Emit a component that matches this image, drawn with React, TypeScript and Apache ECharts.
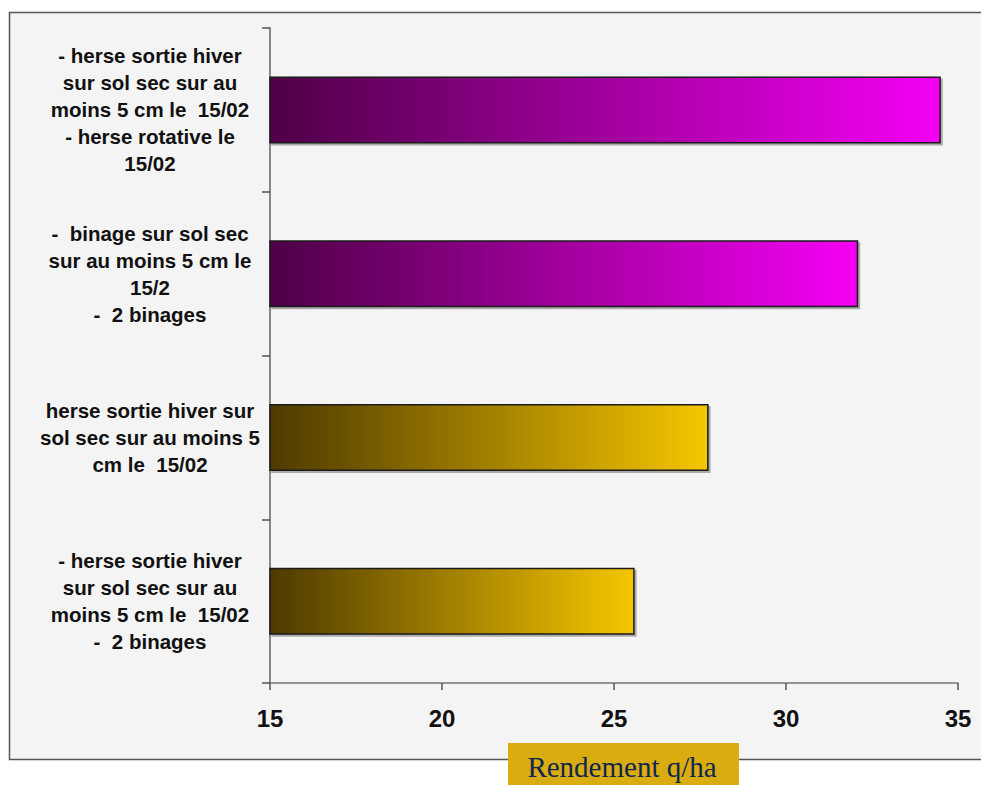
import React, { useEffect, useRef } from "react";
import * as echarts from "echarts";

const categories = [
  "- herse sortie hiver\nsur sol sec sur au\nmoins 5 cm le  15/02\n- herse rotative le\n15/02",
  "-  binage sur sol sec\nsur au moins 5 cm le\n15/2\n-  2 binages",
  "herse sortie hiver sur\nsol sec sur au moins 5\ncm le  15/02",
  "- herse sortie hiver\nsur sol sec sur au\nmoins 5 cm le  15/02\n-  2 binages",
];
const values = [34.5, 32.1, 27.75, 25.6];
const colorGroups = ["pink", "pink", "gold", "gold"];
const xTicks = [15, 20, 25, 30, 35];
const axisTitle = "Rendement q/ha";

const gradients: Record<string, [string, string]> = {
  pink: ["#4e0046", "#f400f4"],
  gold: ["#4e3a00", "#f6c600"],
};

export default function App() {
  const ref = useRef<HTMLDivElement>(null);
  useEffect(() => {
    document.body.style.margin = "0";
    const chart = echarts.init(ref.current!, null, { renderer: "svg" });
    const data = values.map((v, i) => {
      const [c0, c1] = gradients[colorGroups[i]];
      return {
        value: v,
        itemStyle: {
          color: new echarts.graphic.LinearGradient(0, 0, 1, 0, [
            { offset: 0, color: c0 },
            { offset: 1, color: c1 },
          ]),
        },
      };
    });
    chart.setOption({
      animation: false,
      backgroundColor: "#ffffff",
      graphic: [
        {
          type: "rect",
          z: -10,
          shape: { x: 9.5, y: 12.5, width: 1000, height: 747 },
          style: { fill: "#f4f4f4", stroke: "#555555", lineWidth: 1.5 },
        },
        {
          type: "group",
          z: 100,
          children: [
            {
              type: "rect",
              shape: { x: 508, y: 743, width: 231, height: 50 },
              style: { fill: "#d9ac10" },
            },
            {
              type: "text",
              x: 622,
              y: 767,
              style: {
                text: axisTitle,
                fill: "#0f2750",
                font: "29px 'Liberation Serif', 'DejaVu Serif', serif",
                align: "center",
                verticalAlign: "middle",
              },
            },
          ],
        },
      ],
      grid: { left: 270, right: 23, top: 28, bottom: 102, containLabel: false },
      xAxis: {
        type: "value",
        min: xTicks[0],
        max: xTicks[xTicks.length - 1],
        interval: 5,
        splitLine: { show: false },
        axisLine: { show: true, lineStyle: { color: "#777777", width: 1.5 } },
        axisTick: { show: true, length: 7, lineStyle: { color: "#555555", width: 1.5 } },
        axisLabel: {
          margin: 23,
          color: "#111111",
          fontSize: 24,
          fontWeight: "bold",
          fontFamily: "'Liberation Sans', Arial, sans-serif",
        },
      },
      yAxis: {
        type: "category",
        data: categories,
        inverse: true,
        axisLine: { show: true, lineStyle: { color: "#888888", width: 2 } },
        axisTick: { show: true, length: 8, lineStyle: { color: "#555555", width: 1.5 } },
        axisLabel: {
          margin: 120,
          align: "center",
          color: "#111111",
          fontSize: 20.5,
          lineHeight: 27,
          fontWeight: "bold",
          fontFamily: "'Liberation Sans', Arial, sans-serif",
        },
      },
      series: [
        {
          type: "bar",
          data,
          barWidth: 67,
          clip: true,
          itemStyle: {
            borderColor: "#1a1a1a",
            borderWidth: 1.5,
            shadowColor: "rgba(0,0,0,0.3)",
            shadowOffsetX: 2,
            shadowOffsetY: 2,
            shadowBlur: 1,
          },
        },
      ],
    });
    return () => chart.dispose();
  }, []);
  return (
    <div
      ref={ref}
      style={{ position: "absolute", left: 0, top: 0, width: 981, height: 785 }}
    />
  );
}
